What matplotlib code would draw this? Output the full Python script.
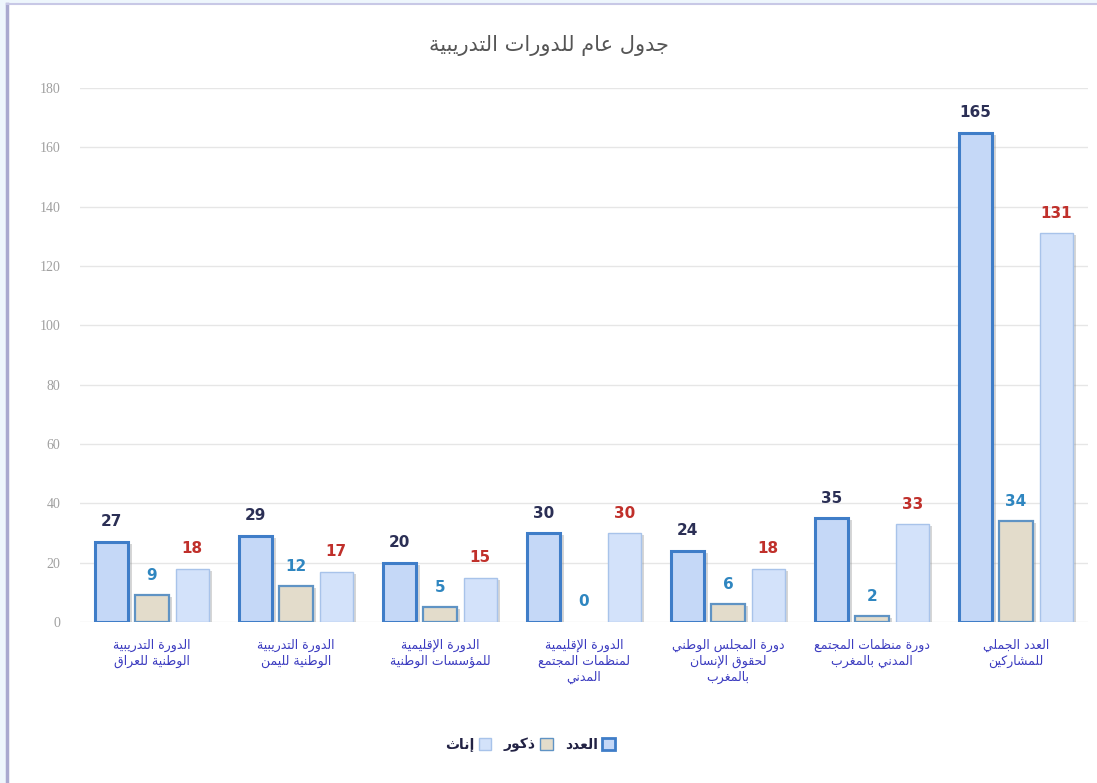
#!/usr/bin/env python3
"""
General table of training courses: grouped bars (total / males / females)
Arabic text is shaped by hand into presentation forms, matplotlib draws LTR.
"""

import numpy as np
import matplotlib
matplotlib.use("Agg")
import matplotlib.pyplot as plt
import matplotlib.patheffects as pe
from matplotlib.patches import Rectangle, Patch

# ---- data ----
categories = [
    "الدورة التدريبية\nالوطنية للعراق",
    "الدورة التدريبية\nالوطنية لليمن",
    "الدورة الإقليمية\nللمؤسسات الوطنية",
    "الدورة الإقليمية\nلمنظمات المجتمع\nالمدني",
    "دورة المجلس الوطني\nلحقوق الإنسان\nبالمغرب",
    "دورة منظمات المجتمع\nالمدني بالمغرب",
    "العدد الجملي\nللمشاركين",
]
series_names = ["العدد", "ذكور", "إناث"]
total = [27, 29, 20, 30, 24, 35, 165]
males = [9, 12, 5, 0, 6, 2, 34]
females = [18, 17, 15, 30, 18, 33, 131]
title = "جدول عام للدورات التدريبية"
yticks = [0, 20, 40, 60, 80, 100, 120, 140, 160, 180]

# ---- minimal Arabic shaping (isolated, final, initial, medial) ----
_letters = [("ء", 1), ("آ", 2), ("أ", 2), ("ؤ", 2), ("إ", 2), ("ئ", 4), ("ا", 2),
            ("ب", 4), ("ة", 2), ("ت", 4), ("ث", 4), ("ج", 4), ("ح", 4), ("خ", 4),
            ("د", 2), ("ذ", 2), ("ر", 2), ("ز", 2), ("س", 4), ("ش", 4), ("ص", 4),
            ("ض", 4), ("ط", 4), ("ظ", 4), ("ع", 4), ("غ", 4), ("ف", 4), ("ق", 4),
            ("ك", 4), ("ل", 4), ("م", 4), ("ن", 4), ("ه", 4), ("و", 2), ("ى", 2),
            ("ي", 4)]
FORMS = {}
_code = 0xFE80
for _ch, _nf in _letters:
    FORMS[_ch] = (_code, _nf)
    _code += _nf
LAM_ALEF = {"آ": 0xFEF5, "أ": 0xFEF7, "إ": 0xFEF9, "ا": 0xFEFB}


def shape_line(text):
    out = []
    n = len(text)
    i = 0
    while i < n:
        c = text[i]
        if c not in FORMS:
            out.append(c)
            i += 1
            continue
        prev = text[i - 1] if i > 0 else ""
        joins_prev = prev in FORMS and FORMS[prev][1] == 4
        if c == "ل" and i + 1 < n and text[i + 1] in LAM_ALEF:
            out.append(chr(LAM_ALEF[text[i + 1]] + (1 if joins_prev else 0)))
            i += 2
            continue
        start, nf = FORMS[c]
        nxt = text[i + 1] if i + 1 < n else ""
        joins_next = nf == 4 and nxt in FORMS and nxt != "ء"
        if nf == 1:
            form = 0
        elif nf == 2:
            form = 1 if joins_prev else 0
        else:
            form = [[0, 2], [1, 3]][joins_prev][joins_next]
        out.append(chr(start + form))
        i += 1
    return "".join(reversed(out))


def ar(text):
    return "\n".join(shape_line(line) for line in text.split("\n"))


def main():
    plt.rcParams["font.family"] = ["DejaVu Sans"]
    fig = plt.figure(figsize=(10.97, 7.83), dpi=100)
    fig.patch.set_facecolor("#eef6fc")

    # white chart area with a thin frame on left/top
    fig.add_artist(Rectangle((7 / 1097, 0), 1, 1 - 4 / 783, transform=fig.transFigure,
                             facecolor="white", edgecolor="none", zorder=-10))
    fig.add_artist(plt.Line2D([7 / 1097, 7 / 1097], [0, 1 - 4 / 783], transform=fig.transFigure,
                              color="#a9a9cf", lw=2.5, zorder=-9))
    fig.add_artist(plt.Line2D([7 / 1097, 1], [1 - 4 / 783, 1 - 4 / 783], transform=fig.transFigure,
                              color="#c8c8e6", lw=1.5, zorder=-9))

    ax = fig.add_axes([80 / 1097, 1 - 622 / 783, 1008 / 1097, 534 / 783])
    ax.set_facecolor("none")

    x = np.arange(len(categories))
    w = 0.23
    off = 0.28
    shadow = [pe.SimplePatchShadow(offset=(2.5, -1.5), shadow_rgbFace="#8a8a8a", alpha=0.35), pe.Normal()]

    b1 = ax.bar(x - off, total, w, color="#c5d8f7", edgecolor="#3f7dc8", linewidth=2.2, zorder=3)
    b2 = ax.bar(x, males, w, color="#e3dccb", edgecolor="#5f93c4", linewidth=1.6, zorder=3)
    b3 = ax.bar(x + off, females, w, color="#d3e2fa", edgecolor="#a8c3ea", linewidth=1.0, zorder=3)
    for bars in (b1, b2, b3):
        for p in bars:
            if p.get_height() == 0:
                p.set_linewidth(0)
            else:
                p.set_path_effects(shadow)

    for bars, vals, col in ((b1, total, "#2b2f55"), (b2, males, "#2f86c0"), (b3, females, "#c0302b")):
        for p, v in zip(bars, vals):
            ax.annotate(str(v), (p.get_x() + p.get_width() / 2, v), xytext=(0, 9),
                        textcoords="offset points", ha="center", va="bottom",
                        fontsize=11, fontweight="bold", color=col)

    ax.set_ylim(0, 180)
    ax.set_xlim(-0.5, len(categories) - 0.5)
    ax.set_yticks(yticks)
    ax.set_yticklabels([str(t) for t in yticks], fontfamily="Liberation Serif",
                       fontsize=10, color="#a0a0a0")
    ax.tick_params(axis="y", length=0, pad=14)
    ax.tick_params(axis="x", length=0, pad=12)
    ax.set_xticks(x)
    ax.set_xticklabels([ar(c) for c in categories], fontsize=9, color="#3c3cc0",
                       linespacing=1.3)
    ax.grid(axis="y", color="#e6e6e6", linewidth=1, zorder=0)
    for s in ax.spines.values():
        s.set_visible(False)

    fig.text(0.50, 1 - 45 / 783, ar(title), ha="center", va="center", fontsize=15, color="#555555")

    handles = [Patch(facecolor="#d3e2fa", edgecolor="#a8c3ea"),
               Patch(facecolor="#e3dccb", edgecolor="#5f93c4"),
               Patch(facecolor="#c5d8f7", edgecolor="#3f7dc8", linewidth=2)]
    labels = [ar(series_names[2]), ar(series_names[1]), ar(series_names[0])]
    leg = fig.legend(handles, labels, loc="center", bbox_to_anchor=(530 / 1097, 1 - 745 / 783),
                     ncol=3, frameon=False, markerfirst=False, fontsize=10,
                     handlelength=0.9, handleheight=0.9, handletextpad=0.3, columnspacing=0.9)
    for t in leg.get_texts():
        t.set_color("#222244")
        t.set_fontweight("bold")

    fig.savefig("out.png", dpi=100)


if __name__ == "__main__":
    main()
